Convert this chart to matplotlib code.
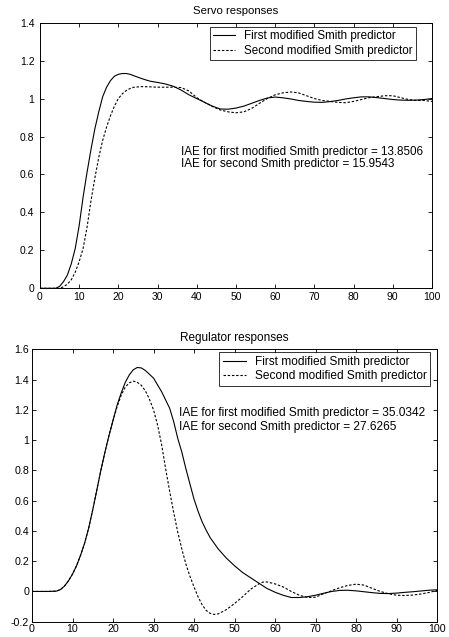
import numpy as np
import matplotlib
matplotlib.use("Agg")
import matplotlib.pyplot as plt

plt.rcParams['font.family'] = ['Liberation Sans', 'DejaVu Sans']

# ---- Servo responses ----
servo_t1 = [0, 2, 4, 5, 6, 7, 8, 9, 10, 11, 12, 13, 14, 15, 16, 17, 18, 19, 20, 21, 22, 23, 24,
            26, 28, 30, 32, 34, 36, 38, 40, 42, 44, 46, 48, 50, 52, 54, 56, 58, 60, 62, 64,
            66, 68, 70, 72, 74, 76, 78, 80, 82, 84, 86, 88, 90, 92, 94, 96, 98, 100]
servo_y1 = [0, 0, 0, 0.01, 0.035, 0.07, 0.13, 0.21, 0.33, 0.48, 0.61, 0.73, 0.84, 0.93, 1.01,
            1.06, 1.095, 1.118, 1.128, 1.132, 1.132, 1.128, 1.12, 1.105, 1.092, 1.085, 1.077,
            1.065, 1.045, 1.02, 1.0, 0.98, 0.96, 0.945, 0.944, 0.95, 0.96, 0.975, 0.99, 1.003,
            1.008, 1.004, 0.998, 0.99, 0.985, 0.981, 0.98, 0.984, 0.99, 0.998, 1.004, 1.009,
            1.009, 1.005, 1.0, 0.995, 0.992, 0.991, 0.992, 0.995, 1.0]

servo_t2 = [0, 2, 4, 5, 6, 7, 8, 9, 10, 11, 12, 13, 14, 15, 16, 17, 18, 19, 20, 21, 22, 23, 24,
            26, 28, 30, 32, 34, 36, 38, 40, 42, 44, 46, 48, 50, 52, 54, 56, 58, 60, 62, 64,
            66, 68, 70, 72, 74, 76, 78, 80, 82, 84, 86, 88, 90, 92, 94, 96, 98, 100]
servo_y2 = [0, 0, 0, 0, 0.008, 0.022, 0.045, 0.085, 0.14, 0.21, 0.32, 0.46, 0.58, 0.69, 0.78,
            0.85, 0.91, 0.96, 1.0, 1.025, 1.042, 1.053, 1.06, 1.063, 1.062, 1.06, 1.06, 1.06,
            1.058, 1.04, 1.005, 0.98, 0.958, 0.94, 0.93, 0.925, 0.93, 0.948, 0.975, 1.0, 1.02,
            1.03, 1.035, 1.03, 1.015, 1.0, 0.99, 0.985, 0.98, 0.978, 0.985, 0.995, 1.005, 1.01,
            1.015, 1.015, 1.005, 0.995, 0.99, 0.99, 0.985]

# ---- Regulator responses ----
reg_t1 = [0, 2, 4, 6, 7, 8, 9, 10, 11, 12, 13, 14, 15, 16, 17, 18, 19, 20, 21, 22, 23, 24, 25,
          26, 27, 28, 30, 32, 34, 35, 36, 37, 38, 39, 40, 41, 42, 43, 44, 46, 48, 50, 52, 54,
          56, 58, 60, 62, 64, 66, 68, 70, 72, 74, 76, 78, 80, 82, 84, 86, 88, 90, 92, 94, 96,
          98, 100]
reg_y1 = [0, 0, 0, 0.002, 0.012, 0.035, 0.07, 0.115, 0.17, 0.24, 0.32, 0.42, 0.54, 0.67, 0.8,
          0.92, 1.03, 1.13, 1.23, 1.31, 1.38, 1.43, 1.465, 1.48, 1.477, 1.46, 1.41, 1.32,
          1.21, 1.12, 1.01, 0.92, 0.81, 0.71, 0.61, 0.53, 0.46, 0.405, 0.355, 0.28, 0.22, 0.17,
          0.125, 0.09, 0.055, 0.02, -0.005, -0.025, -0.04, -0.04, -0.035, -0.025, -0.012,
          0.0, 0.007, 0.008, 0.004, -0.002, -0.008, -0.013, -0.014, -0.011, -0.006, -0.002,
          0.003, 0.008, 0.011]

reg_t2 = [0, 2, 4, 6, 7, 8, 9, 10, 11, 12, 13, 14, 15, 16, 17, 18, 19, 20, 21, 22, 23, 24, 25,
          26, 27, 28, 29, 30, 31, 32, 33, 34, 35, 36, 37, 38, 39, 40, 41, 42, 43, 44, 45, 46,
          48, 50, 52, 54, 56, 57, 58, 60, 62, 64, 66, 68, 70, 72, 74, 76, 78, 80, 82, 84, 86,
          88, 90, 92, 94, 96, 98, 100]
reg_y2 = [0, 0, 0, 0.002, 0.012, 0.035, 0.07, 0.115, 0.17, 0.24, 0.32, 0.42, 0.54, 0.67, 0.8,
          0.92, 1.03, 1.13, 1.22, 1.295, 1.35, 1.378, 1.39, 1.382, 1.362, 1.325, 1.27, 1.2,
          1.1, 0.97, 0.81, 0.66, 0.52, 0.39, 0.28, 0.18, 0.1, 0.03, -0.035, -0.088, -0.125,
          -0.145, -0.152, -0.148, -0.12, -0.08, -0.035, 0.015, 0.05, 0.062, 0.063, 0.05, 0.03,
          0.0, -0.025, -0.04, -0.038, -0.015, 0.005, 0.025, 0.04, 0.048, 0.042, 0.02, 0.0,
          -0.015, -0.025, -0.027, -0.024, -0.017, -0.007, 0.007]

labels = ['First modified Smith predictor', 'Second modified Smith predictor']
servo_text = ['IAE for first modified Smith predictor = 13.8506',
              'IAE for second Smith predictor = 15.9543']
reg_text = ['IAE for first modified Smith predictor = 35.0342',
            'IAE for second Smith predictor = 27.6265']

fig = plt.figure(figsize=(4.49, 6.37), dpi=100)
ax1 = fig.add_axes([0.089, 0.5474, 0.873, 0.417])
ax2 = fig.add_axes([0.0713, 0.024, 0.902, 0.4276])


def style(ax, fs, xpad, ypad):
    ax.tick_params(direction='in', top=True, right=True, labelsize=fs, length=3, width=0.6)
    ax.tick_params(axis='x', pad=xpad)
    ax.tick_params(axis='y', pad=ypad)
    for s in ax.spines.values():
        s.set_linewidth(0.7)


def add_legend(ax, fs, anchor):
    leg = ax.legend(loc='upper right', bbox_to_anchor=anchor, fontsize=fs, frameon=True,
                    fancybox=False, edgecolor='black', borderpad=0.3, handlelength=1.9,
                    handletextpad=0.75, labelspacing=0.2, borderaxespad=0.0)
    leg.get_frame().set_linewidth(0.7)


ax1.plot(servo_t1, servo_y1, color='black', lw=0.8, label=labels[0])
ax1.plot(servo_t2, servo_y2, color='black', lw=0.8, dashes=(2.2, 1.6), label=labels[1])
ax1.set_xlim(0, 100)
ax1.set_ylim(0, 1.4)
ax1.set_xticks(np.arange(0, 101, 10))
ax1.set_yticks([0, 0.2, 0.4, 0.6, 0.8, 1, 1.2, 1.4])
ax1.set_yticklabels(['0', '0.2', '0.4', '0.6', '0.8', '1', '1.2', '1.4'])
ax1.set_title('Servo responses', fontsize=8.2, pad=6)
style(ax1, 7.5, 3, 4)
add_legend(ax1, 8.35, (0.959, 0.984))
ax1.text(36.1, 0.72, servo_text[0], fontsize=8.35, va='center', ha='left')
ax1.text(36.1, 0.655, servo_text[1], fontsize=8.35, va='center', ha='left')

ax2.plot(reg_t1, reg_y1, color='black', lw=0.8, label=labels[0])
ax2.plot(reg_t2, reg_y2, color='black', lw=0.8, dashes=(2.2, 1.6), label=labels[1])
ax2.set_xlim(0, 100)
ax2.set_ylim(-0.2, 1.6)
ax2.set_xticks(np.arange(0, 101, 10))
ax2.set_yticks([-0.2, 0, 0.2, 0.4, 0.6, 0.8, 1, 1.2, 1.4, 1.6])
ax2.set_yticklabels(['-0.2', '0', '0.2', '0.4', '0.6', '0.8', '1', '1.2', '1.4', '1.6'])
ax2.set_title('Regulator responses', fontsize=8.5, pad=6)
style(ax2, 7.7, 1.5, 2)
add_legend(ax2, 8.6, (0.983, 0.989))
ax2.text(36.3, 1.177, reg_text[0], fontsize=8.6, va='center', ha='left')
ax2.text(36.3, 1.089, reg_text[1], fontsize=8.6, va='center', ha='left')

fig.savefig('out.png', dpi=100)
